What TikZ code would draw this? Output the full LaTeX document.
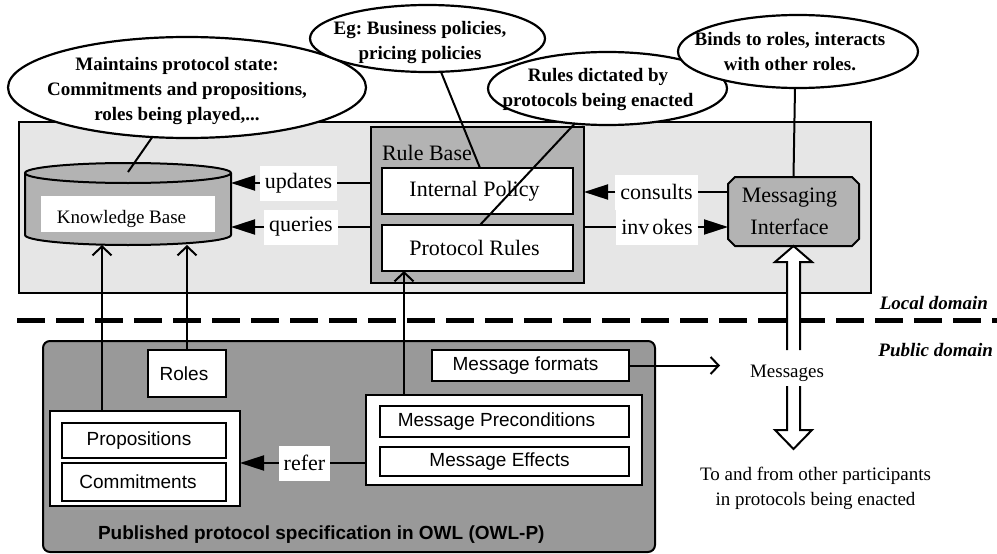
\documentclass[tikz,border=0pt]{standalone}
\usepackage{fontspec}
\setmainfont{Liberation Serif}
\setsansfont{Liberation Sans}
\usetikzlibrary{arrows.meta,shapes.geometric,fit}
\definecolor{localgray}{HTML}{E6E6E6}
\definecolor{midgray}{HTML}{B3B3B3}
\definecolor{pubgray}{HTML}{999999}
\newcommand\fontbig{\fontsize{22}{26}\selectfont}
\newcommand\fontmid{\fontsize{19}{25}\selectfont}
\frenchspacing
\begin{document}
\begin{tikzpicture}[x=1pt,y=-1pt,line width=2pt,
  every node/.style={inner sep=0pt,outer sep=0pt},
  panel/.style={fit={#1},draw,inner sep=0pt},
  serifbig/.style={font=\fontbig},
  sansmid/.style={font=\sffamily\fontmid},
  callout/.style={ellipse,draw,fill=white,line width=2.2pt},
  callouttext/.style={font=\bfseries\fontmid,align=center},
  lbl/.style={fill=white,font=\fontbig,inner xsep=5pt,minimum height=35pt},
  filledtip/.style={-{Triangle[length=24pt,width=15pt]}},
  opentip/.style={-{Straight Barb[length=9pt,width=19pt]}},
  opentipsmall/.style={-{Straight Barb[length=8pt,width=17pt]}},
]
\useasboundingbox (0,0) rectangle (997,554);

% local domain panel
\node[panel={(19,122) (871,293)},fill=localgray] (local) {};

% knowledge base drum
\fill[midgray] (25,173) -- (25,235)
  arc[start angle=180,end angle=360,x radius=103pt,y radius=10pt]
  -- (231,173)
  arc[start angle=0,end angle=180,x radius=103pt,y radius=10pt] -- cycle;
\draw (25,173) -- (25,235)
  arc[start angle=180,end angle=360,x radius=103pt,y radius=10pt]
  -- (231,173);
\draw (128,173) ellipse [x radius=103pt,y radius=10pt];
\node[fit={(25,163) (231,245)}] (kb) {};
\coordinate (kbtop) at (128,172);
\node[fit={(41,196) (215,232)},fill=white] (kbpad) {};
\node[anchor=base,font=\fontmid] (kbname) at (121.5,223) {Knowledge Base};

% rule base
\node[panel={(371,127) (584,283)},fill=midgray] (rb) {};
\node[anchor=base west,serifbig] (rbname) at (382,160) {Rule Base};
\node[panel={(382,168) (573,214)},fill=white,label={[serifbig,xshift=-3pt]center:Internal Policy}] (ip) {};
\node[panel={(382,225) (573,271)},fill=white,label={[serifbig,xshift=-3pt]center:Protocol Rules}] (pr) {};

% messaging interface with chamfered corners
\filldraw[fill=midgray] (735,177) -- (852,177) -- (859,184) -- (859,239)
  -- (852,246) -- (735,246) -- (728,239) -- (728,184) -- cycle;
\node[fit={(728,177) (859,246)},
  label={[align=center,font=\fontsize{22}{32}\selectfont,xshift=-4pt]center:{Messaging\\Interface}}] (mi) {};

% labelled connectors in the local domain
\node[lbl] (lu) at (298.5,183) {updates};
\node[lbl] (lq) at (301,227) {queries};
\node[lbl] (lc) at (656.5,192) {consults};
\node[lbl] (li) at (657,227) {inv\kern3pt okes};
\draw (rb.west |- lu) -- (lu.east);
\draw[filledtip] (lu.west) -- (kb.east |- lu);
\draw (rb.west |- lq) -- (lq.east);
\draw[filledtip] (lq.west) -- (kb.east |- lq);
\draw (mi.west |- lc) -- (lc.east);
\draw[filledtip] (lc.west) -- (rb.east |- lc);
\draw (rb.east |- li) -- (li.west);
\draw[filledtip] (li.east) -- (mi.west |- li);

% callouts
\node[callout,minimum width=358pt,minimum height=101pt] (c1) at (187,87.5) {};
\node[callout,minimum width=235pt,minimum height=67pt] (c2) at (427.5,38.5) {};
\node[callout,minimum width=239pt,minimum height=73pt] (c3) at (607.5,88.5) {};
\node[callout,minimum width=240pt,minimum height=73pt] (c4) at (798,51.5) {};
\node[callouttext] (c1t) at (177,90.6) {Maintains protocol state:\\Commitments and propositions,\\roles being played,...};
\node[callouttext] (c2t) at (420,43) {Eg: Business policies,\\pricing policies};
\node[callouttext] (c3t) at (598,90) {Rules dictated by\\protocols being enacted};
\node[callouttext] (c4t) at (790,52) {Binds to roles, interacts\\with other roles.};
\draw (c1.235) -- (kbtop);
\draw (c2.292) -- ([xshift=2.5pt]ip.north);
\draw (c3.227) -- ([xshift=2.5pt]pr.north);
\draw ([xshift=-3pt]c4.south) -- (mi.north);

% boundary between local and public domains
\coordinate (divL) at (17,320);
\coordinate (divR) at (997,320);
\draw[line width=5pt,dash pattern=on 28pt off 11pt] (divL) -- (divR);
\node[anchor=base east,font=\bfseries\itshape\fontmid] (localname) at (988,309) {Local domain};
\node[anchor=base east,font=\bfseries\itshape\fontmid] (pubname) at (993,356) {Public domain};

% published protocol specification
\node[panel={(43,341) (655,552)},fill=pubgray,rounded corners=7pt] (pub) {};
\node[panel={(148,350) (226,397)},fill=white,label={[sansmid,xshift=-3pt]center:Roles}] (roles) {};
\node[panel={(50,411) (240,506)},fill=white] (po) {};
\node[panel={(62,423) (226,458)},fill=white,label={[sansmid,xshift=-5pt]center:Propositions}] (props) {};
\node[panel={(62,463) (226,501)},fill=white,label={[sansmid,xshift=-6pt]center:Commitments}] (comm) {};
\node[panel={(366,395) (642,485)},fill=white] (mo) {};
\node[panel={(380,406) (629,437)},fill=white,label={[sansmid,xshift=-8pt]center:Message Preconditions}] (pre) {};
\node[panel={(380,447) (629,476)},fill=white,label={[sansmid,xshift=-5pt]center:Message Effects}] (eff) {};
\node[panel={(432,350) (629,381)},fill=white,label={[sansmid,xshift=-5pt]center:Message formats}] (mf) {};
\node[anchor=base west,font=\sffamily\bfseries\fontmid] (pubtitle) at (98,539) {Published protocol specification in OWL (OWL-P)};

\node[lbl] (lr) at (304.5,463) {refer};
\draw (mo.west |- lr) -- (lr.east);
\draw[filledtip] (lr.west) -- (po.east |- lr);

% specification feeding the local knowledge and rules
\coordinate (pa) at ([xshift=-43pt]po.north);
\coordinate (pb) at ([xshift=-100pt]mo.north);
\draw[opentip] (pa) -- (pa |- kb.south);
\draw[opentip] (roles.north) -- (roles.north |- kb.south);
\draw[opentip] (pb) -- (pb |- pr.south);

\coordinate (msgend) at (720,367);
\draw[opentipsmall] (mf.east) -- (mf.east -| msgend);

% message exchange with other participants
\filldraw[fill=white] (787,350) -- (787,262) -- (775,262) -- (mi.south)
  -- (812,262) -- (800,262) -- (800,350);
\node[anchor=base,font=\fontmid] (msgs) at (787,377) {Messages};
\filldraw[fill=white] (787,386) -- (787,430) -- (775,430) -- (793.5,449)
  -- (812,430) -- (800,430) -- (800,386);
\node[font=\fontmid,align=center] (others) at (815.5,488.5) {To and from other participants\\in protocols being enacted};
\end{tikzpicture}
\end{document}
